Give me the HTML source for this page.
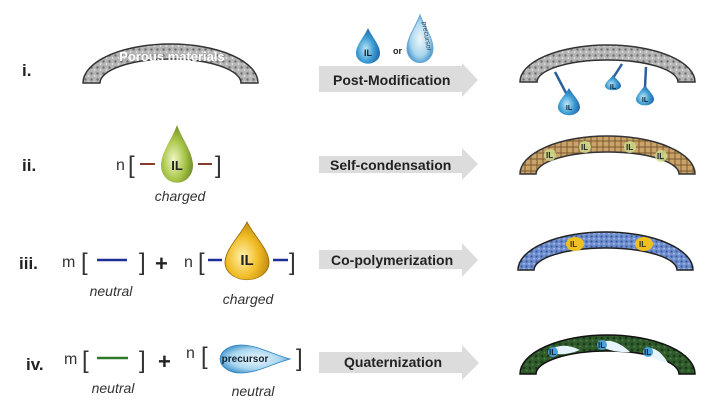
<!DOCTYPE html>
<html><head><meta charset="utf-8"><style>
body{margin:0;background:#fff;}
svg{display:block;font-family:"Liberation Sans",sans-serif;}
</style></head><body>
<svg width="724" height="411" viewBox="0 0 724 411" xmlns="http://www.w3.org/2000/svg">
<defs>
<pattern id="gr" width="6" height="6" patternUnits="userSpaceOnUse"><rect width="6" height="6" fill="#b4b4b4"/><circle cx="1.5" cy="1.5" r="1.2" fill="#707070"/><circle cx="4.5" cy="4" r="0.9" fill="#e6e6e6"/></pattern>
<pattern id="br" width="6" height="6" patternUnits="userSpaceOnUse"><rect width="6" height="6" fill="#c9a46a"/><path d="M0 3H6M3 0V6" stroke="#7a5a30" stroke-width="1"/></pattern>
<pattern id="bl" width="5" height="5" patternUnits="userSpaceOnUse"><rect width="5" height="5" fill="#6f8fcf"/><circle cx="1.5" cy="1.5" r="1.1" fill="#3b5aa0"/><circle cx="4" cy="3.8" r="0.8" fill="#b8c8ee"/></pattern>
<pattern id="gn" width="6" height="6" patternUnits="userSpaceOnUse"><rect width="6" height="6" fill="#2f5a2c"/><circle cx="2" cy="2" r="1.3" fill="#1b3a1a"/><circle cx="4.5" cy="4.5" r="1" fill="#4f7d48"/></pattern>
<radialGradient id="bd" cx="0.4" cy="0.6" r="0.7"><stop offset="0" stop-color="#bfe6f7"/><stop offset="0.5" stop-color="#3a9bd2"/><stop offset="1" stop-color="#1c4f9a"/></radialGradient>
<radialGradient id="gd" cx="0.4" cy="0.6" r="0.7"><stop offset="0" stop-color="#f1f7c8"/><stop offset="0.5" stop-color="#a9c64a"/><stop offset="1" stop-color="#5d7a1e"/></radialGradient>
<radialGradient id="yd" cx="0.4" cy="0.6" r="0.7"><stop offset="0" stop-color="#fff3b0"/><stop offset="0.5" stop-color="#f1bd28"/><stop offset="1" stop-color="#b27c08"/></radialGradient>
<radialGradient id="pd" cx="0.5" cy="0.5" r="0.6"><stop offset="0" stop-color="#eef7fc"/><stop offset="0.6" stop-color="#a9d6ef"/><stop offset="1" stop-color="#2f86c2"/></radialGradient>
<path id="drop" d="M0,-1 C0.15,-0.6 0.5,-0.2 0.5,0.2 A0.5,0.5 0 0 1 -0.5,0.2 C-0.5,-0.2 -0.15,-0.6 0,-1Z"/>
</defs>

<g font-weight="bold" font-size="17" fill="#222">
<text x="22" y="76">i.</text><text x="22" y="171">ii.</text><text x="19" y="269">iii.</text><text x="26" y="370">iv.</text>
</g>

<path d="M83,83 A87.5,39 0 0 1 258,83 L241,83 A70.5,24 0 0 0 100,83 Z" fill="url(#gr)" stroke="#333" stroke-width="1.5"/>
<text x="172" y="61" font-size="13" font-weight="bold" fill="#fff" text-anchor="middle">Porous materials</text>

<g fill="#dcdcdc">
<path d="M319,66 H462 V63 L478,80 L462,97 V92 H319Z"/>
<path d="M319,156 H462 V148 L478,164 L462,180 V173 H319Z"/>
<path d="M319,250 H462 V243 L478,260 L462,277 V269 H319Z"/>
<path d="M319,352 H462 V345 L479,363 L462,380 V373 H319Z"/>
</g>
<g font-weight="bold" font-size="14" fill="#222">
<text x="333" y="85">Post-Modification</text>
<text x="330" y="170">Self-condensation</text>
<text x="331" y="265">Co-polymerization</text>
<text x="344" y="367">Quaternization</text>
</g>

<use href="#drop" transform="translate(368,49) scale(24,21)" fill="url(#bd)"/>
<text x="368" y="56" font-size="9" font-weight="bold" text-anchor="middle" fill="#123">IL</text>
<text x="393" y="54" font-size="9" font-weight="bold" fill="#222">or</text>
<use href="#drop" transform="translate(420,43) scale(26,28)" fill="url(#pd)" stroke="#6aa8d4" stroke-width="0.04"/>
<text transform="translate(422,22) rotate(80)" font-size="7" fill="#345">precursor</text>

<path d="M520,82 A87.5,37 0 0 1 695,82 L678,82 A70.5,22 0 0 0 537,82 Z" fill="url(#gr)" stroke="#333" stroke-width="1.5"/>
<g stroke="#2a5f9a" stroke-width="2.5"><path d="M555,72 L566,93"/><path d="M622,64 L613,78"/><path d="M646,67 L645,87"/></g>
<use href="#drop" transform="translate(569,104) scale(22,16)" fill="url(#bd)"/>
<use href="#drop" transform="translate(613,84) scale(16,9)" fill="url(#bd)"/>
<use href="#drop" transform="translate(645,97) scale(18,12)" fill="url(#bd)"/>
<g font-size="7" font-weight="bold" fill="#123" text-anchor="middle"><text x="569" y="110">IL</text><text x="613" y="89">IL</text><text x="645" y="102">IL</text></g>

<g font-size="16" fill="#333"><text x="116" y="170">n</text></g>
<g font-size="24" fill="#333"><text x="128" y="173">[</text><text x="215" y="173">]</text></g>
<path d="M140,164 H155 M198,164 H212" stroke="#8a3a2a" stroke-width="2"/>
<use href="#drop" transform="translate(177,159) scale(32,34)" fill="url(#gd)"/>
<text x="177" y="170" font-size="13" font-weight="bold" text-anchor="middle" fill="#222">IL</text>
<text x="180" y="201" font-size="14" font-style="italic" text-anchor="middle" fill="#333">charged</text>
<path d="M520,174 A87.5,38 0 0 1 695,174 L679,174 A71.5,22 0 0 0 536,174 Z" fill="url(#br)" stroke="#333" stroke-width="1.5"/>
<g fill="#cfe08a" opacity="0.8"><circle cx="550" cy="155" r="6"/><circle cx="585" cy="147" r="6"/><circle cx="630" cy="147" r="6"/><circle cx="661" cy="156" r="6"/></g>
<g font-size="8" font-weight="bold" fill="#223"><text x="546" y="158">IL</text><text x="581" y="150">IL</text><text x="626" y="150">IL</text><text x="657" y="159">IL</text></g>

<g font-size="16" fill="#333"><text x="62" y="267">m</text><text x="184" y="267">n</text></g>
<g font-size="24" fill="#333"><text x="81" y="270">[</text><text x="139" y="270">]</text><text x="198" y="270">[</text><text x="289" y="270">]</text></g>
<text x="155" y="271" font-size="22" font-weight="bold" fill="#222">+</text>
<path d="M97,260 H127 M208,260 H222 M273,260 H288" stroke="#1f2f9a" stroke-width="2.5"/>
<use href="#drop" transform="translate(247,256) scale(44,34)" fill="url(#yd)" stroke="#9a6a00" stroke-width="0.02"/>
<text x="247" y="265" font-size="15" font-weight="bold" text-anchor="middle" fill="#222">IL</text>
<text x="111" y="296" font-size="14" font-style="italic" text-anchor="middle" fill="#333">neutral</text>
<text x="248" y="304" font-size="14" font-style="italic" text-anchor="middle" fill="#333">charged</text>
<path d="M518,270 A87.5,38 0 0 1 693,270 L677,270 A71.5,22 0 0 0 534,270 Z" fill="url(#bl)" stroke="#222" stroke-width="1.5"/>
<ellipse cx="575" cy="244" rx="9" ry="7" fill="#f0c020"/><ellipse cx="644" cy="244" rx="9" ry="7" fill="#f0c020"/>
<g font-size="8" font-weight="bold" fill="#332"><text x="570" y="247">IL</text><text x="639" y="247">IL</text></g>

<g font-size="16" fill="#333"><text x="64" y="364">m</text><text x="186" y="358">n</text></g>
<g font-size="24" fill="#333"><text x="82" y="368">[</text><text x="139" y="368">]</text><text x="201" y="364">[</text><text x="296" y="366">]</text></g>
<text x="158" y="369" font-size="22" font-weight="bold" fill="#222">+</text>
<path d="M97,358 H128" stroke="#2e7a2a" stroke-width="2.5"/>
<use href="#drop" transform="translate(249,359) rotate(90) scale(28,41)" fill="url(#pd)" stroke="#2f86c2" stroke-width="0.03"/>
<text x="245" y="362" font-size="10" font-weight="bold" text-anchor="middle" fill="#123">precursor</text>
<text x="113" y="393" font-size="14" font-style="italic" text-anchor="middle" fill="#333">neutral</text>
<text x="253" y="396" font-size="14" font-style="italic" text-anchor="middle" fill="#333">neutral</text>
<path d="M520,374 A87.5,39 0 0 1 695,374 L679,374 A71.5,23 0 0 0 536,374 Z" fill="url(#gn)" stroke="#111" stroke-width="1.5"/>
<g fill="#e8f4fb"><path d="M548,351 Q562,341 580,350 Q560,358 548,351Z"/><path d="M597,344 Q612,335 630,352 Q610,353 597,344Z"/><path d="M643,350 Q656,343 668,363 Q650,359 643,350Z"/></g>
<g fill="#4aa0d8"><circle cx="553" cy="352" r="5"/><circle cx="602" cy="345" r="5"/><circle cx="648" cy="352" r="5"/></g>
<g font-size="8" font-weight="bold" fill="#123"><text x="549" y="355">IL</text><text x="598" y="348">IL</text><text x="644" y="355">IL</text></g>
</svg>
</body></html>
